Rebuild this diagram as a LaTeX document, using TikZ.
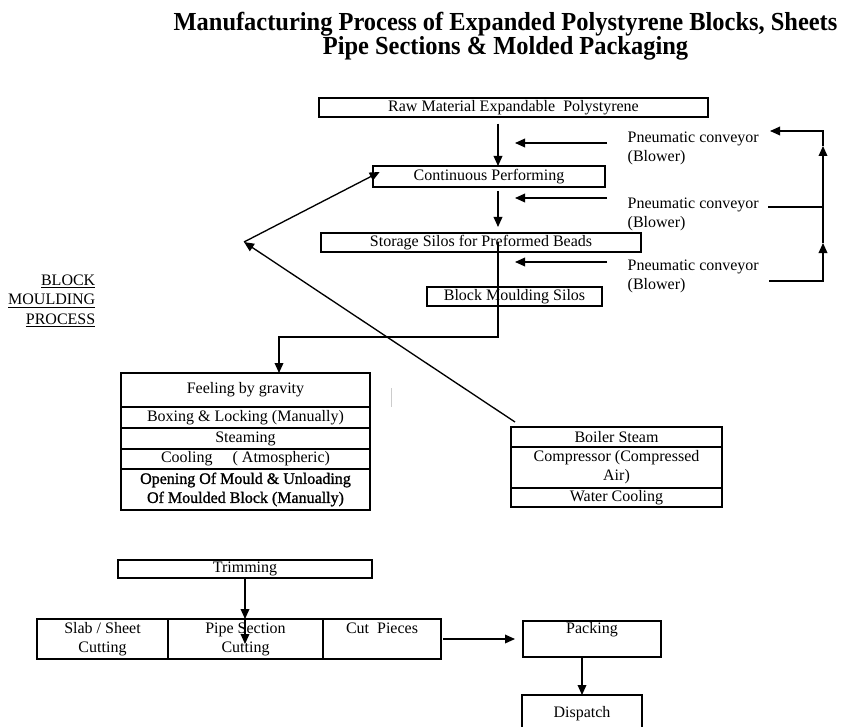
\documentclass[tikz,border=0pt]{standalone}
\usepackage{fontspec}
\setmainfont{Liberation Serif}
\newfontfamily\titlefont[FakeStretch=0.94]{Liberation Serif}
\newfontfamily\heavyfont[FakeBold=1.2]{Liberation Serif}
\usetikzlibrary{arrows.meta, positioning, calc}

\begin{document}
\begin{tikzpicture}[
        x=0.75pt, y=-0.75pt,
        box/.style={draw, line width=1pt, rectangle, inner sep=0pt, outer sep=0pt, align=center},
        stage/.style={box, minimum width=186.75pt},
        utility/.style={box, minimum width=158.25pt},
        flow/.style={line width=1pt, -{Triangle[length=7.5pt, width=6.5pt]}},
        plain line/.style={line width=1pt},
        every node/.style={color=black, font=\fontsize{12}{14.25}\selectfont}]

    \useasboundingbox (0,0) rectangle (845,727);

    % title
    \node(title)[align=center, font=\titlefont\fontsize{19.5}{18}\selectfont\bfseries] at (505.5,36)
        {Manufacturing Process of Expanded Polystyrene Blocks, Sheets\\Pipe Sections \& Molded Packaging};

    % main column
    \coordinate (col) at (498,0);
    \node(raw)[box, minimum width=291.75pt, minimum height=14.25pt] at (513.5,107.5) {Raw Material Expandable\ \ Polystyrene};
    \node(cp)[box, minimum width=174pt, minimum height=15.75pt] at (489,176.5) {Continuous Performing};
    \node(store)[box, minimum width=240pt, minimum height=14.25pt] at (481,242.5) {Storage Silos for Preformed Beads};
    \node(bms)[box, minimum width=131.25pt, minimum height=14.25pt] at (514.5,296.5) {Block Moulding Silos};

    \draw[flow, shorten <=5pt] (raw.south -| col) -- (cp.north -| col);
    \draw[flow, shorten <=3pt, shorten >=4.5pt] (cp.south -| col) -- (store.north -| col);

    % pneumatic conveyors
    \node(pn1)[anchor=west, align=left] at (623,148) {Pneumatic conveyor\\(Blower)};
    \node(pn2)[anchor=west, align=left] at (623,214) {Pneumatic conveyor\\(Blower)};
    \node(pn3)[anchor=west, align=left] at (623,276.5) {Pneumatic conveyor\\(Blower)};
    \coordinate (in1) at (515,143);
    \coordinate (in2) at (515,198);
    \coordinate (in3) at (515,262);
    \draw[flow, shorten <=12pt] (pn1.west |- in1) -- (in1);
    \draw[flow, shorten <=12pt] (pn2.west |- in2) -- (in2);
    \draw[flow, shorten <=12pt] (pn3.west |- in3) -- (in3);

    % return loop
    \coordinate (r1) at (769,281);
    \coordinate (r3) at (823,243);
    \coordinate (r4) at (823,146);
    \coordinate (r5) at (770,131);
    \coordinate (r6) at (768,207);
    \draw[flow] (r1) -| (r3);
    \draw[flow] (r3) -- (r4);
    \draw[flow] (r4) |- (r5);
    \draw[plain line] (r6) -- (r6 -| r3);

    % block moulding
    \node(blk)[anchor=east, align=right, font=\fontsize{12}{14.6}\selectfont] at (100,301)
        {\underline{BLOCK}\\\underline{MOULDING}\\\underline{PROCESS}};

    \node(f1)[stage, minimum height=25.5pt] at (245.5,390) {Feeling by gravity};
    \node(f2)[stage, minimum height=15.75pt, below=0pt of f1] {Boxing \& Locking (Manually)};
    \node(f3)[stage, minimum height=15.75pt, below=0pt of f2] {Steaming};
    \node(f4)[stage, minimum height=15pt, below=0pt of f3] {Cooling\quad\ ( Atmospheric)};
    \node(f5)[stage, minimum height=30.75pt, below=0pt of f4, font=\heavyfont\fontsize{12}{14.25}\selectfont]
        {Opening Of Mould \& Unloading\\Of Moulded Block (Manually)};

    \coordinate (bend) at (279,337);
    \draw[flow] (store.center -| col) |- (bend) -- (bend |- f1.north);

    % utilities
    \node(b1)[utility, minimum height=15pt] at (616.5,437) {Boiler Steam};
    \node(b2)[utility, minimum height=30.75pt, below=0pt of b1] {Compressor (Compressed\\Air)};
    \node(b3)[utility, minimum height=14.25pt, below=0pt of b2] {Water Cooling};

    \coordinate (apex) at (244,242);
    \draw[flow] ([xshift=3pt, yshift=3.75pt]b1.north west) -- (apex);
    \draw[flow] (apex) -- ([xshift=5pt, yshift=-4.5pt]cp.north west);
    \draw[gray!40] (391,388) -- (391,407);

    % finishing
    \node(trim)[box, minimum width=190.5pt, minimum height=13.5pt] at (245,569) {Trimming};
    \node(c1)[box, minimum width=98.25pt, minimum height=30pt] at (102.5,639) {Slab / Sheet\\Cutting};
    \node(c2)[box, minimum width=116.25pt, minimum height=30pt, right=0pt of c1] {Pipe Section\\Cutting};
    \node(c3)[box, minimum width=88.5pt, minimum height=30pt, right=0pt of c2] {Cut\ \ Pieces\\[-2pt]\strut};
    \node(pack)[box, minimum width=103.5pt, minimum height=27pt] at (592,639) {Packing\\[-2pt]\strut};
    \node(disp)[box, minimum width=90pt, minimum height=27.75pt] at (582,713.5) {Dispatch};

    \coordinate (pipemid) at ($(trim.south |- c2.north)+(0,25)$);
    \draw[flow] (trim.south) -- (trim.south |- c2.north);
    \draw[flow] (trim.south |- c2.north) -- (pipemid);
    \draw[flow, shorten <=1.5pt, shorten >=6pt] (c3.east) -- (pack.west);
    \draw[flow] (pack.south -| disp.north) -- (disp.north);
\end{tikzpicture}
\end{document}
